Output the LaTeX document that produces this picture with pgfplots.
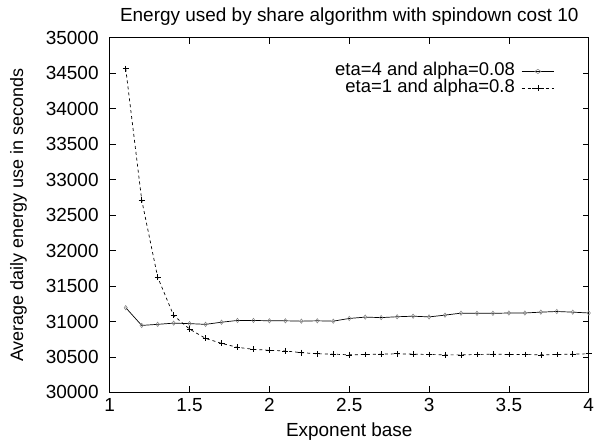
\documentclass[border=0pt]{standalone}
\usepackage{fontspec}
\setmainfont{Liberation Sans}
\usepackage{pgfplots}
\pgfplotsset{compat=1.18}
\begin{document}
\fontsize{19}{21}\selectfont
\begin{tikzpicture}
\begin{axis}[
  name=ax,
  scale only axis,
  width=480pt, height=355.5pt,
  xmin=1, xmax=4, ymin=30000, ymax=35000,
  xtick={1,1.5,...,4}, ytick={30000,30500,...,35000},
  scaled y ticks=false, scaled x ticks=false,
  /pgf/number format/assume math mode=true,
  /pgf/number format/1000 sep={},
  tick align=inside,
  major tick length=6pt,
  axis line style={line width=1.1pt},
  every tick/.style={black, line width=0.8pt},
  ticklabel style={font=\fontsize{19}{21}\selectfont},
  xticklabel style={inner sep=2pt, yshift=-4pt},
  yticklabel style={inner sep=2pt, xshift=-9pt},
  title={Energy used by share algorithm with spindown cost 10},
  title style={font=\fontsize{19}{21}\selectfont, at={(axis description cs:0.5,1.028)}, anchor=base},
  xlabel={Exponent base},
  xlabel style={font=\fontsize{19}{21}\selectfont, at={(axis description cs:0.5,-0.124)}, anchor=base},
  ylabel={Average daily energy use in seconds},
  ylabel style={font=\fontsize{18}{20}\selectfont, at={(axis description cs:-0.181,0.5)}, anchor=base, rotate=0},
  legend plot pos=right,
  legend cell align=right,
  legend style={draw=none, fill=none, at={(axis description cs:0.935,0.935)}, anchor=north east,
    font=\fontsize{18.5}{20}\selectfont, row sep=0pt, column sep=6pt,
    nodes={text height=12.5pt, text depth=3.5pt, inner sep=0.5pt}},
  legend image post style={xscale=1.9},
]
\addplot[black, line width=0.7pt, mark=diamond, mark size=2.2pt, mark options={solid, gray, line width=0.5pt}] coordinates {
(1.1,31195) (1.2,30945) (1.3,30960) (1.4,30977) (1.5,30970) (1.6,30960)
(1.7,30990) (1.8,31015) (1.9,31015) (2.0,31010) (2.1,31010) (2.2,31005)
(2.3,31010) (2.4,31005) (2.5,31043) (2.6,31062) (2.7,31055) (2.8,31067)
(2.9,31075) (3.0,31065) (3.1,31090) (3.2,31118) (3.3,31115) (3.4,31115)
(3.5,31120) (3.6,31120) (3.7,31132) (3.8,31141) (3.9,31132) (4.0,31120)
};
\addlegendentry{eta=4 and alpha=0.08}
\addplot[black, line width=0.7pt, dashed, mark=+, mark size=3pt, mark options={solid, black, line width=0.6pt}] coordinates {
(1.1,34565) (1.2,32715) (1.3,31625) (1.4,31085) (1.5,30893) (1.6,30762)
(1.7,30692) (1.8,30636) (1.9,30608) (2.0,30594) (2.1,30585) (2.2,30561)
(2.3,30545) (2.4,30540) (2.5,30530) (2.6,30535) (2.7,30540) (2.8,30545)
(2.9,30540) (3.0,30535) (3.1,30530) (3.2,30530) (3.3,30535) (3.4,30540)
(3.5,30535) (3.6,30535) (3.7,30530) (3.8,30535) (3.9,30540) (4.0,30545)
};
\addlegendentry{eta=1 and alpha=0.8}
\end{axis}
\useasboundingbox ([shift={(-110pt,-48.7pt)}]ax.south west) rectangle ([shift={(6pt,37.8pt)}]ax.north east);
\end{tikzpicture}
\end{document}
